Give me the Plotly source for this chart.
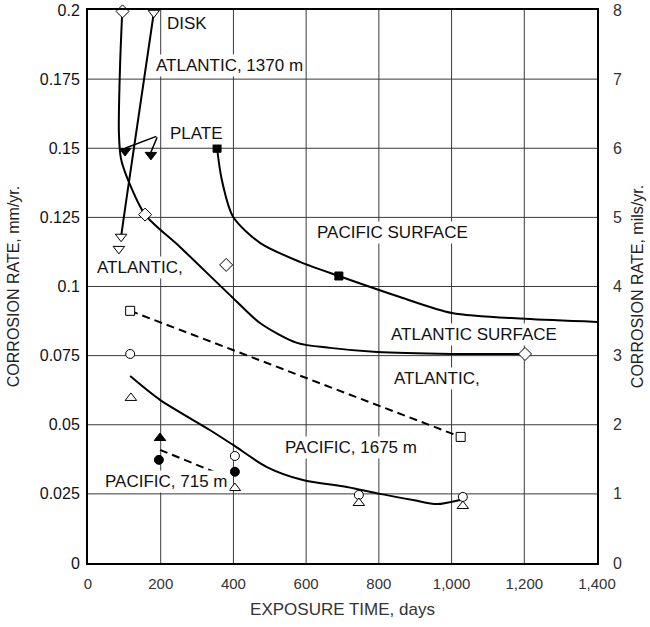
import plotly.graph_objects as go

# ---------------- data ----------------
# Atlantic surface (open diamonds) - curve and points
atl_surf_curve_x = [94, 88, 85, 91, 110, 157, 253, 396, 473, 575, 666, 795, 1001, 1202]
atl_surf_curve_y = [0.199, 0.179, 0.1556, 0.146, 0.1386, 0.126, 0.1143, 0.0962, 0.0868, 0.0796, 0.0778, 0.0763, 0.0756, 0.0756]
atl_surf_pts_x = [95, 157, 380, 1202]
atl_surf_pts_y = [0.1995, 0.126, 0.1078, 0.0756]

# Pacific surface (filled squares)
pac_surf_curve_x = [355, 368, 399, 473, 583, 690, 858, 1001, 1202, 1400]
pac_surf_curve_y = [0.150, 0.1386, 0.1252, 0.1158, 0.1089, 0.1038, 0.0962, 0.0904, 0.0883, 0.0872]
pac_surf_pts_x = [355, 690]
pac_surf_pts_y = [0.150, 0.1038]

# Atlantic 1370 m, disk (open down-triangles)
atl1370_line_x = [181, 105, 91]
atl1370_line_y = [0.199, 0.131, 0.118]
atl1370_pts_x = [181, 91, 85]
atl1370_pts_y = [0.199, 0.118, 0.1136]

# Atlantic 1370 m, plate (filled down-triangles)
plate_x = [102, 173]
plate_y = [0.149, 0.1476]

# Atlantic, deep (open squares, dashed)
atl_deep_x = [116, 1025]
atl_deep_y = [0.0912, 0.0456]

# Pacific 1675 m (open circles, open triangles, solid curve)
pac1675_curve_x = [116, 198, 335, 399, 492, 591, 712, 803, 894, 960, 1023]
pac1675_curve_y = [0.0676, 0.059, 0.0481, 0.0427, 0.0347, 0.030, 0.0275, 0.025, 0.0228, 0.0213, 0.0228]
pac1675_circ_x = [116, 404, 745, 1031]
pac1675_circ_y = [0.0756, 0.0387, 0.0246, 0.0239]
pac1675_tri_x = [118, 404, 745, 1031]
pac1675_tri_y = [0.0597, 0.0271, 0.0217, 0.0206]

# Pacific 715 m (filled circles, filled triangle, dashed)
pac715_line_x = [198, 382]
pac715_line_y = [0.0409, 0.0311]
pac715_circ_x = [195, 404]
pac715_circ_y = [0.0373, 0.033]
pac715_tri_x = [198]
pac715_tri_y = [0.0452]

x_ticks = [0, 200, 400, 600, 800, 1000, 1200, 1400]
x_ticklabels = ["0", "200", "400", "600", "800", "1,000", "1,200", "1,400"]
y_ticks = [0, 0.025, 0.05, 0.075, 0.1, 0.125, 0.15, 0.175, 0.2]
y_ticklabels = ["0", "0.025", "0.05", "0.075", "0.1", "0.125", "0.15", "0.175", "0.2"]
y2_ticks = [0, 1, 2, 3, 4, 5, 6, 7, 8]

# ---------------- figure ----------------
fig = go.Figure()
K = "black"
GRID = "#3a3a3a"

# grid lines (as line traces through the axes' scales), built from the tick arrays
gx, gy = [], []
for xv in x_ticks[1:-1]:
    gx += [xv, xv, None]
    gy += [y_ticks[0], y_ticks[-1], None]
for yv in y_ticks[1:-1]:
    gx += [x_ticks[0], x_ticks[-1], None]
    gy += [yv, yv, None]
fig.add_trace(go.Scatter(x=gx, y=gy, mode="lines", line=dict(color=GRID, width=1),
                         hoverinfo="skip", showlegend=False))

def line(x, y, dash="solid", shape="spline"):
    fig.add_trace(go.Scatter(x=x, y=y, mode="lines",
                             line=dict(color=K, width=2, dash=dash, shape=shape, smoothing=0.8),
                             hoverinfo="skip", showlegend=False, cliponaxis=False))

def pts(x, y, symbol, size=10, filled=False):
    fig.add_trace(go.Scatter(x=x, y=y, mode="markers",
                             marker=dict(symbol=symbol, size=size, color=K if filled else "white",
                                         line=dict(color=K, width=1)),
                             showlegend=False, cliponaxis=False))

line(atl_surf_curve_x, atl_surf_curve_y)
line(pac_surf_curve_x, pac_surf_curve_y)
line(atl1370_line_x, atl1370_line_y)
line(atl_deep_x, atl_deep_y, dash="8px,5px", shape="linear")
line(pac1675_curve_x, pac1675_curve_y)
line(pac715_line_x, pac715_line_y, dash="8px,5px", shape="linear")

pts(atl_surf_pts_x, atl_surf_pts_y, "diamond", 10)
pts(pac_surf_pts_x, pac_surf_pts_y, "square", 8, filled=True)
pts(atl1370_pts_x, atl1370_pts_y, "triangle-down", 10)
pts(plate_x, plate_y, "triangle-down", 10, filled=True)
pts(atl_deep_x, atl_deep_y, "square", 9)
pts(pac1675_circ_x, pac1675_circ_y, "circle", 9)
pts(pac1675_tri_x, pac1675_tri_y, "triangle-up", 10)
pts(pac715_circ_x, pac715_circ_y, "circle", 9, filled=True)
pts(pac715_tri_x, pac715_tri_y, "triangle-up", 10, filled=True)

# invisible trace for the right axis
fig.add_trace(go.Scatter(x=[0], y=[0], yaxis="y2", mode="markers", marker=dict(opacity=0),
                         showlegend=False, hoverinfo="skip"))

FONT = "Liberation Sans, Arial, sans-serif"
labels = [
    ("DISK", 212, 0.1953),
    ("ATLANTIC, 1370 m", 181, 0.1798),
    ("PLATE", 220, 0.1555),
    ("PACIFIC SURFACE", 624, 0.1197),
    ("ATLANTIC,", 19, 0.1067),
    ("ATLANTIC SURFACE", 828, 0.0825),
    ("ATLANTIC,", 836, 0.0669),
    ("PACIFIC, 1675 m", 536, 0.0416),
    ("PACIFIC, 715 m", 41, 0.0293),
]
for t, x, y in labels:
    fig.add_annotation(x=x, y=y, text=t, showarrow=False, xanchor="left", yanchor="middle",
                       font=dict(family=FONT, size=17, color="#111"), bgcolor="white", borderpad=1)

# PLATE pointer lines
for px, py in zip(plate_x, plate_y):
    fig.add_annotation(x=px, y=py + 0.001, ax=192, ay=0.1545, axref="x", ayref="y", xref="x", yref="y",
                       text="", showarrow=True, arrowhead=0, arrowwidth=1.5, arrowcolor=K)

fig.update_layout(
    width=650, height=627,
    margin=dict(l=88, r=53, t=10, b=64),
    paper_bgcolor="white", plot_bgcolor="white",
    font=dict(family=FONT, size=16, color="#111"),
    xaxis=dict(range=[0, 1400], tickvals=x_ticks, ticktext=x_ticklabels,
               showgrid=False, zeroline=False, automargin=False,
               showline=True, linecolor=K, linewidth=2, mirror=True, ticks="", ticklabelstandoff=6,
               ticklabeloverflow="allow",
               title=dict(text="EXPOSURE TIME, days", font=dict(size=17, color="#333"), standoff=12),
               tickfont=dict(size=15, color="#333")),
    yaxis=dict(range=[0, 0.2], tickvals=y_ticks, ticktext=y_ticklabels,
               showgrid=False, zeroline=False, automargin=False,
               showline=True, linecolor=K, linewidth=2, mirror=True, ticks="", ticklabelstandoff=3,
               ticklabeloverflow="allow",
               title=dict(text="CORROSION RATE, mm/yr.", font=dict(size=16, color="#222"), standoff=16),
               tickfont=dict(size=16, color="#111")),
    yaxis2=dict(range=[0, 8], tickvals=y2_ticks, overlaying="y", side="right",
                showgrid=False, zeroline=False, showline=False, ticks="", automargin=False,
                ticklabelstandoff=15, ticklabeloverflow="allow",
                title=dict(text="CORROSION RATE, mils/yr.", font=dict(size=16, color="#222"), standoff=10),
                tickfont=dict(size=16, color="#333")),
)

fig.write_html("out.html", config={"displayModeBar": False},
               post_script="document.body.style.margin='0';")
